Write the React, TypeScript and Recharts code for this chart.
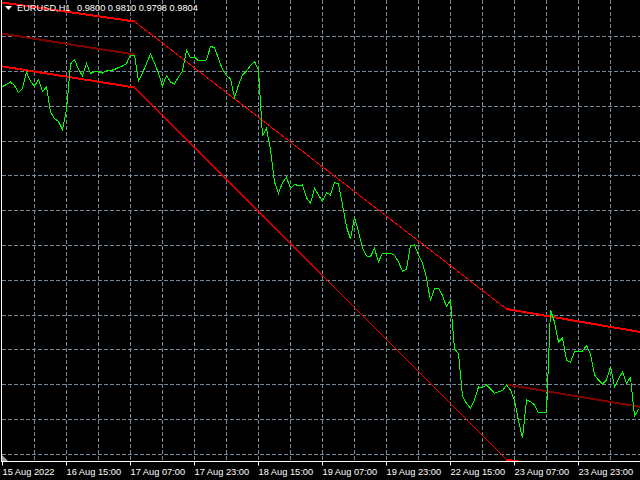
import React from "react";
import { LineChart, Line, XAxis, YAxis, CartesianGrid } from "recharts";

// ---- Data ----
// closing prices of EURUSD, one per H1 bar (bar index = position)
const closes: number[] = [
  1.02135, 1.02155, 1.0218, 1.02145, 1.02075, 1.02115, 1.0228, 1.02185, 1.0214, 1.02205,
  1.02085, 1.0213, 1.0188, 1.01815, 1.01785, 1.01705, 1.019, 1.0236, 1.02405, 1.02305,
  1.0224, 1.02365, 1.02265, 1.02283, 1.02283, 1.0227, 1.02295, 1.02295, 1.02305, 1.02325,
  1.0234, 1.02365, 1.0245, 1.0245, 1.0219, 1.0227, 1.02365, 1.0246, 1.0237, 1.02265,
  1.0214, 1.02245, 1.0218, 1.0216, 1.0223, 1.0229, 1.02495, 1.02425, 1.0243, 1.0239,
  1.02395, 1.024, 1.02535, 1.02525, 1.02415, 1.02305, 1.02245, 1.0221, 1.02025, 1.0215,
  1.0225, 1.0229, 1.02345, 1.02385, 1.023, 1.01645, 1.01715, 1.015, 1.0118, 1.01067,
  1.01175, 1.01227, 1.01117, 1.01155, 1.01145, 1.0115, 1.0102, 1.00967, 1.01117, 1.0105,
  1.00985, 1.01073, 1.0105, 1.01175, 1.0116, 1.0095, 1.0073, 1.0061, 1.0083, 1.0068,
  1.0052, 1.0044, 1.00435, 1.00517, 1.0038, 1.0047, 1.0047, 1.0047, 1.00445, 1.0038,
  1.0029, 1.00305, 1.00545, 1.0055, 1.0045, 1.0037, 1.0022, 0.9999, 1.00117, 1.00117,
  1.00045, 0.99935, 1.0, 0.9951, 0.99467, 0.9904, 0.98965, 0.9892, 0.99, 0.9913,
  0.99125, 0.9915, 0.9911, 0.99067, 0.99083, 0.99093, 0.9915, 0.991, 0.98995, 0.9879,
  0.9862, 0.99, 0.98985, 0.9895, 0.98873, 0.98873, 0.9887, 0.999, 0.9978, 0.9958,
  0.9962, 0.994, 0.99375, 0.99483, 0.99483, 0.9949, 0.99545, 0.9946, 0.9925, 0.992,
  0.9916, 0.992, 0.99333, 0.99133, 0.9921, 0.9928, 0.99167, 0.99225, 0.9884, 0.98907,
];

// channel lines: bar indices of vertices and their prices
const upperBars = [-1, 33, 126, 161];
const upperPrices = [1.0298, 1.02785, 0.9991, 0.99669];
const lowerBars = [-1, 33, 80, 126, 161];
const lowerPrices = [1.02342, 1.02125, 1.00245, 0.98405, 0.98167];
const midLeftBars = [-1, 33];
const midLeftPrices = [1.02669, 1.02455];
const midRightBars = [126, 161];
const midRightPrices = [0.99155, 0.9892];

// x-axis labels
const tickBars = [0, 16, 32, 48, 64, 80, 96, 112, 128, 144];
const tickLabels = [
  "15 Aug 2022",
  "16 Aug 15:00",
  "17 Aug 07:00",
  "17 Aug 23:00",
  "18 Aug 15:00",
  "19 Aug 07:00",
  "19 Aug 23:00",
  "22 Aug 15:00",
  "23 Aug 07:00",
  "23 Aug 23:00",
];

// grid levels
const gridBars = [8, 16, 24, 32, 40, 48, 56, 64, 72, 80, 88, 96, 104, 112, 120, 128, 136, 144, 152];
const gridPrices = [
  1.02985, 1.02635, 1.02285, 1.01935, 1.01585, 1.01245, 1.00895, 1.00545, 1.00195,
  0.99845, 0.99505, 0.99155, 0.98805, 0.98455,
];

const symbolTitle = "EURUSD,H1";
const ohlcTitle = "0.9800 0.9810 0.9798 0.9804";

// ---- Build series ----
const priceData = closes.map((p, i) => ({ i, p }));
const seg = (bars: number[], prices: number[], a: number, b: number) =>
  bars.slice(a, b + 1).map((i, k) => ({ i, p: prices[a + k] }));

const FONT = "'Liberation Sans', Arial, sans-serif";

const DateTick = (props: any) => {
  const { x, y, payload } = props;
  const idx = tickBars.indexOf(payload.value);
  return (
    <text x={x} y={y + 7} fill="#ffffff" fontSize={9.25} fontFamily={FONT} textAnchor="start">
      {idx >= 0 ? tickLabels[idx] : ""}
    </text>
  );
};

const RED = "#ff0000";
const MAROON = "#800000";

export default function App() {
  const common = {
    dataKey: "p",
    dot: false,
    activeDot: false,
    isAnimationActive: false,
    type: "linear" as const,
    shapeRendering: "crispEdges",
  };
  return (
    <div style={{ position: "fixed", left: 0, top: 0, width: 640, height: 480, background: "#000000", overflow: "hidden" }}>
      <LineChart width={640} height={480} margin={{ top: 0, right: 0, bottom: 0, left: 2 }}>
        <CartesianGrid
          stroke="#778899"
          strokeDasharray="4 2"
          verticalValues={gridBars}
          horizontalValues={gridPrices}
          shapeRendering="crispEdges"
        />
        <XAxis
          dataKey="i"
          type="number"
          domain={[-0.125, 159.375]}
          allowDataOverflow
          ticks={tickBars}
          interval={0}
          height={18.5}
          stroke="#ffffff"
          tickSize={4}
          tick={<DateTick />}
        />
        <YAxis type="number" domain={[0.98385, 1.03]} allowDataOverflow hide />
        <Line {...common} data={seg(upperBars, upperPrices, 0, 1)} stroke={RED} strokeWidth={2} />
        <Line {...common} data={seg(upperBars, upperPrices, 1, 2)} stroke={RED} strokeWidth={1} />
        <Line {...common} data={seg(upperBars, upperPrices, 2, 3)} stroke={RED} strokeWidth={2} />
        <Line {...common} data={seg(lowerBars, lowerPrices, 0, 1)} stroke={RED} strokeWidth={2} />
        <Line {...common} data={seg(lowerBars, lowerPrices, 1, 2)} stroke={RED} strokeWidth={1.3} shapeRendering="auto" />
        <Line {...common} data={seg(lowerBars, lowerPrices, 2, 3)} stroke={RED} strokeWidth={1} />
        <Line {...common} data={seg(lowerBars, lowerPrices, 3, 4)} stroke={RED} strokeWidth={2} />
        <Line {...common} data={seg(midLeftBars, midLeftPrices, 0, 1)} stroke={MAROON} strokeWidth={2} />
        <Line {...common} data={seg(midRightBars, midRightPrices, 0, 1)} stroke={MAROON} strokeWidth={2} />
        <Line {...common} data={priceData} stroke="#00ff00" strokeWidth={1} />
      </LineChart>
      <div style={{ position: "absolute", left: 1, top: 0, width: 1, height: 462, background: "#ffffff" }} />
      <svg width={640} height={480} style={{ position: "absolute", left: 0, top: 0, pointerEvents: "none" }}>
        <polygon points="5,6 12,6 8.5,10" fill="#ffffff" />
        <text x={17} y={11} fill="#ffffff" fontSize={9.25} fontFamily={FONT}>
          {symbolTitle}
        </text>
        <text x={77} y={11} fill="#ffffff" fontSize={9.25} fontFamily={FONT}>
          {ohlcTitle}
        </text>
        <polygon points="2,455 2,461 8,461" fill="#a0a0a0" />
      </svg>
    </div>
  );
}
